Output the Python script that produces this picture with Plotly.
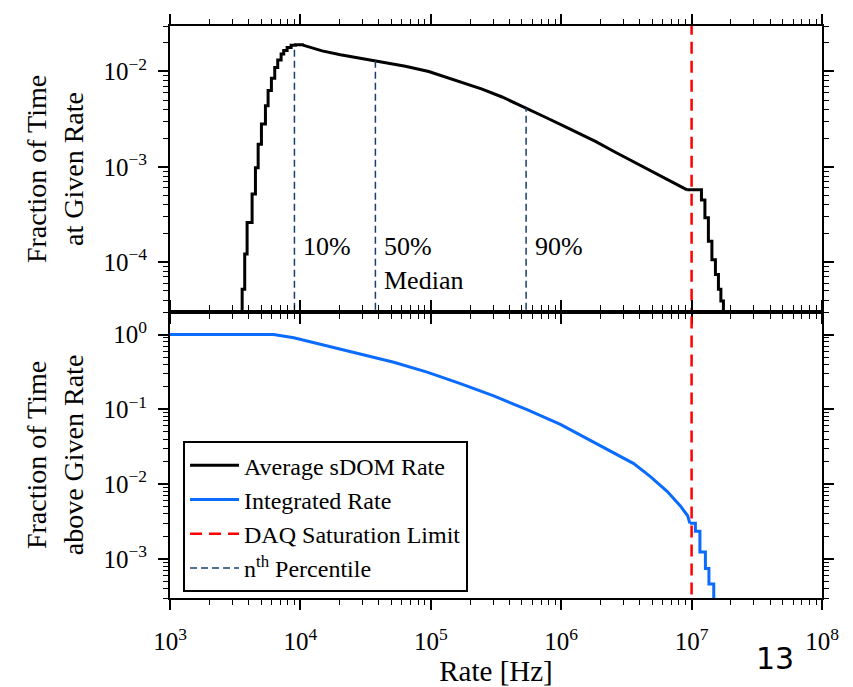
import numpy as np
import plotly.graph_objects as go
from plotly.subplots import make_subplots

# ── DATA ──────────────────────────────────────────────────────────────────────

# top panel: average sDOM rate histogram, split in three pieces
RISE_RATE = [3400, 3575, 3741, 3902, 4262, 4521, 4743, 5025, 5393, 5652,
             5992, 6357, 6700, 7115, 7450, 7910, 8490, 9160, 10310]
RISE_FRAC = [1e-6, 5.2e-5, 1.22e-4, 2.61e-4, 5.18e-4, 9.8e-4, 1.73e-3, 2.81e-3,
             4.36e-3, 6.33e-3, 8.47e-3, 1.10e-2, 1.32e-2, 1.53e-2, 1.66e-2,
             1.79e-2, 1.88e-2, 1.91e-2, 1.90e-2]

BODY_RATE = [10310, 14670, 20260, 29730, 42310, 63860, 96370, 129400, 173800,
             247400, 352200, 531700, 756500, 1.141e6, 1.830e6, 2.604e6,
             3.929e6, 5.939e6, 7.962e6, 9.238e6]
BODY_FRAC = [1.90e-2, 1.644e-2, 1.496e-2, 1.371e-2, 1.268e-2, 1.135e-2,
             1.000e-2, 8.74e-3, 7.65e-3, 6.53e-3, 5.40e-3, 4.19e-3, 3.31e-3,
             2.53e-3, 1.847e-3, 1.423e-3, 1.061e-3, 7.87e-4, 6.30e-4, 5.73e-4]

FALL_RATE = [9.238e6, 1.19e7, 1.265e7, 1.345e7, 1.431e7, 1.523e7, 1.606e7,
             1.677e7, 1.754e7]
FALL_FRAC = [5.73e-4, 4.49e-4, 2.93e-4, 1.66e-4, 1.06e-4, 7.42e-5, 5.20e-5,
             3.92e-5, 1e-6]

# bottom panel: integrated rate (fraction of time above)
INT_RATE = [1e3, 6237, 8896, 16030, 28840, 51990, 93730, 168700, 303800,
            547000, 986000, 1.775e6, 2.683e6, 3.600e6, 4.831e6, 6.486e6,
            8.20e6, 9.33e6, 9.70e6]
INT_FRAC = [1.0, 1.0, 0.903, 0.703, 0.557, 0.425, 0.314, 0.221, 0.151, 0.0988,
            0.0629, 0.0362, 0.0251, 0.0188, 0.0126, 8.01e-3, 5.10e-3, 3.77e-3,
            2.99e-3]
INT_TAIL_RATE = [9.70e6, 1.069e7, 1.158e7, 1.276e7, 1.358e7, 1.479e7]
INT_TAIL_FRAC = [2.99e-3, 2.35e-3, 1.24e-3, 7.45e-4, 4.60e-4, 1e-5]

DAQ_LIMIT = 1e7

PCT_RATE   = [9.0e3, 3.76e4, 5.38e5]
PCT_FRAC   = [1.88e-2, 1.3e-2, 4.15e-3]
PCT_LABELS = ["10%", "50%<br>Median", "90%"]

X_TICKS  = [1e3, 1e4, 1e5, 1e6, 1e7, 1e8]
X_LABELS = ["10<sup>3</sup>", "10<sup>4</sup>", "10<sup>5</sup>",
            "10<sup>6</sup>", "10<sup>7</sup>", "10<sup>8</sup>"]
Y1_TICKS  = [1e-4, 1e-3, 1e-2]
Y1_LABELS = ["10<sup>\u22124</sup>", "10<sup>\u22123</sup>", "10<sup>\u22122</sup>"]
Y2_TICKS  = [1e-3, 1e-2, 1e-1, 1]
Y2_LABELS = ["10<sup>\u22123</sup>", "10<sup>\u22122</sup>",
             "10<sup>\u22121</sup>", "10<sup>0</sup>"]

# ── STYLE ─────────────────────────────────────────────────────────────────────

SERIF = "'Liberation Serif', 'Times New Roman', Times, 'DejaVu Serif', serif"
BLACK = "black"
BLUE  = "#0a6bff"
RED   = "#ff0000"
NAVY  = "#173f6e"

def minor_vals(lo, hi):
    return [m * 10.0 ** e for e in range(lo, hi) for m in range(2, 10)]

fig = make_subplots(rows=2, cols=1, shared_xaxes=True, vertical_spacing=0)

avg_line = dict(color=BLACK, width=3)
fig.add_trace(go.Scatter(x=RISE_RATE, y=RISE_FRAC, mode="lines", line_shape="hv",
                         line=avg_line, name="Average sDOM Rate",
                         legendgroup="avg"), row=1, col=1)
fig.add_trace(go.Scatter(x=BODY_RATE, y=BODY_FRAC, mode="lines", line=avg_line,
                         legendgroup="avg", showlegend=False), row=1, col=1)
fig.add_trace(go.Scatter(x=FALL_RATE, y=FALL_FRAC, mode="lines", line_shape="hv",
                         line=avg_line, legendgroup="avg", showlegend=False),
              row=1, col=1)

int_line = dict(color=BLUE, width=3)
fig.add_trace(go.Scatter(x=INT_RATE, y=INT_FRAC, mode="lines", line=int_line,
                         name="Integrated Rate", legendgroup="int"), row=2, col=1)
fig.add_trace(go.Scatter(x=INT_TAIL_RATE, y=INT_TAIL_FRAC, mode="lines",
                         line_shape="hv", line=int_line, legendgroup="int",
                         showlegend=False), row=2, col=1)

# DAQ limit, drawn through both panels (clipped to each axis range)
daq_line = dict(color=RED, width=2.5, dash="12px,7px")
fig.add_trace(go.Scatter(x=[DAQ_LIMIT, DAQ_LIMIT], y=[1e-6, 1], mode="lines",
                         line=daq_line, name="DAQ Saturation Limit",
                         legendgroup="daq"), row=1, col=1)
fig.add_trace(go.Scatter(x=[DAQ_LIMIT, DAQ_LIMIT], y=[1e-5, 10], mode="lines",
                         line=daq_line, legendgroup="daq", showlegend=False),
              row=2, col=1)

# percentile markers
for i, (r, f, lab) in enumerate(zip(PCT_RATE, PCT_FRAC, PCT_LABELS)):
    fig.add_trace(go.Scatter(x=[r, r], y=[1e-6, f], mode="lines",
                             line=dict(color=NAVY, width=1.5, dash="7px,4px"),
                             name="n<sup>th</sup> Percentile", legendgroup="pct",
                             showlegend=(i == 0)), row=1, col=1)
    fig.add_annotation(x=np.log10(r), y=np.log10(2.2e-4), xref="x", yref="y",
                       text=lab, showarrow=False, xanchor="left", yanchor="top",
                       align="left", xshift=7,
                       font=dict(family=SERIF, size=26, color="black"))

# page number from the scan
fig.add_annotation(x=0.928, y=-0.105, xref="paper", yref="paper", text="13",
                   showarrow=False, xanchor="center", yanchor="middle",
                   font=dict(family="DejaVu Sans", size=30, color="black"))

axis_common = dict(
    type="log", showgrid=False, zeroline=False,
    showline=True, linecolor="black", linewidth=2, mirror="ticks",
    ticks="outside", ticklen=10, tickwidth=1.5, tickcolor="black",
)

fig.update_xaxes(**axis_common, range=[3, 8], tickvals=X_TICKS, ticktext=X_LABELS,
                 tickfont=dict(family=SERIF, size=25, color="black"),
                 ticklabelstandoff=10,
                 minor=dict(tickvals=minor_vals(3, 8), ticks="outside",
                            ticklen=5, tickwidth=1.2, tickcolor="black"))
fig.update_xaxes(showticklabels=False, row=1, col=1)
fig.update_xaxes(title=dict(text="Rate [Hz]", standoff=5,
                            font=dict(family=SERIF, size=29, color="black")),
                 row=2, col=1)

y_tickfont = dict(family=SERIF, size=25, color="black")
fig.update_yaxes(**axis_common, row=1, col=1,
                 range=[np.log10(3e-5), np.log10(3e-2)],
                 tickvals=Y1_TICKS, ticktext=Y1_LABELS, tickfont=y_tickfont,
                 ticklabelstandoff=6,
                 minor=dict(tickvals=minor_vals(-5, -1), ticks="outside",
                            ticklen=5, tickwidth=1.2, tickcolor="black"),
                 title=dict(text="Fraction of Time<br>at Given Rate", standoff=12,
                            font=dict(family=SERIF, size=28, color="black")))
fig.update_yaxes(**axis_common, row=2, col=1,
                 range=[np.log10(3e-4), np.log10(2)],
                 tickvals=Y2_TICKS, ticktext=Y2_LABELS, tickfont=y_tickfont,
                 ticklabelstandoff=6,
                 minor=dict(tickvals=minor_vals(-4, 1), ticks="outside",
                            ticklen=5, tickwidth=1.2, tickcolor="black"),
                 title=dict(text="Fraction of Time<br>above Given Rate", standoff=12,
                            font=dict(family=SERIF, size=28, color="black")))

# margins offset for the page's body margin
fig.update_layout(
    width=853, height=687,
    margin=dict(l=162, r=39, t=6, b=97),
    paper_bgcolor="white", plot_bgcolor="white",
    font=dict(family=SERIF, color="black"),
    legend=dict(x=0.02, y=0.274, xanchor="left", yanchor="top",
                bgcolor="white", bordercolor="black", borderwidth=2,
                font=dict(family=SERIF, size=24, color="black"),
                tracegroupgap=0, itemwidth=49),
)

fig.write_html("out.html")
